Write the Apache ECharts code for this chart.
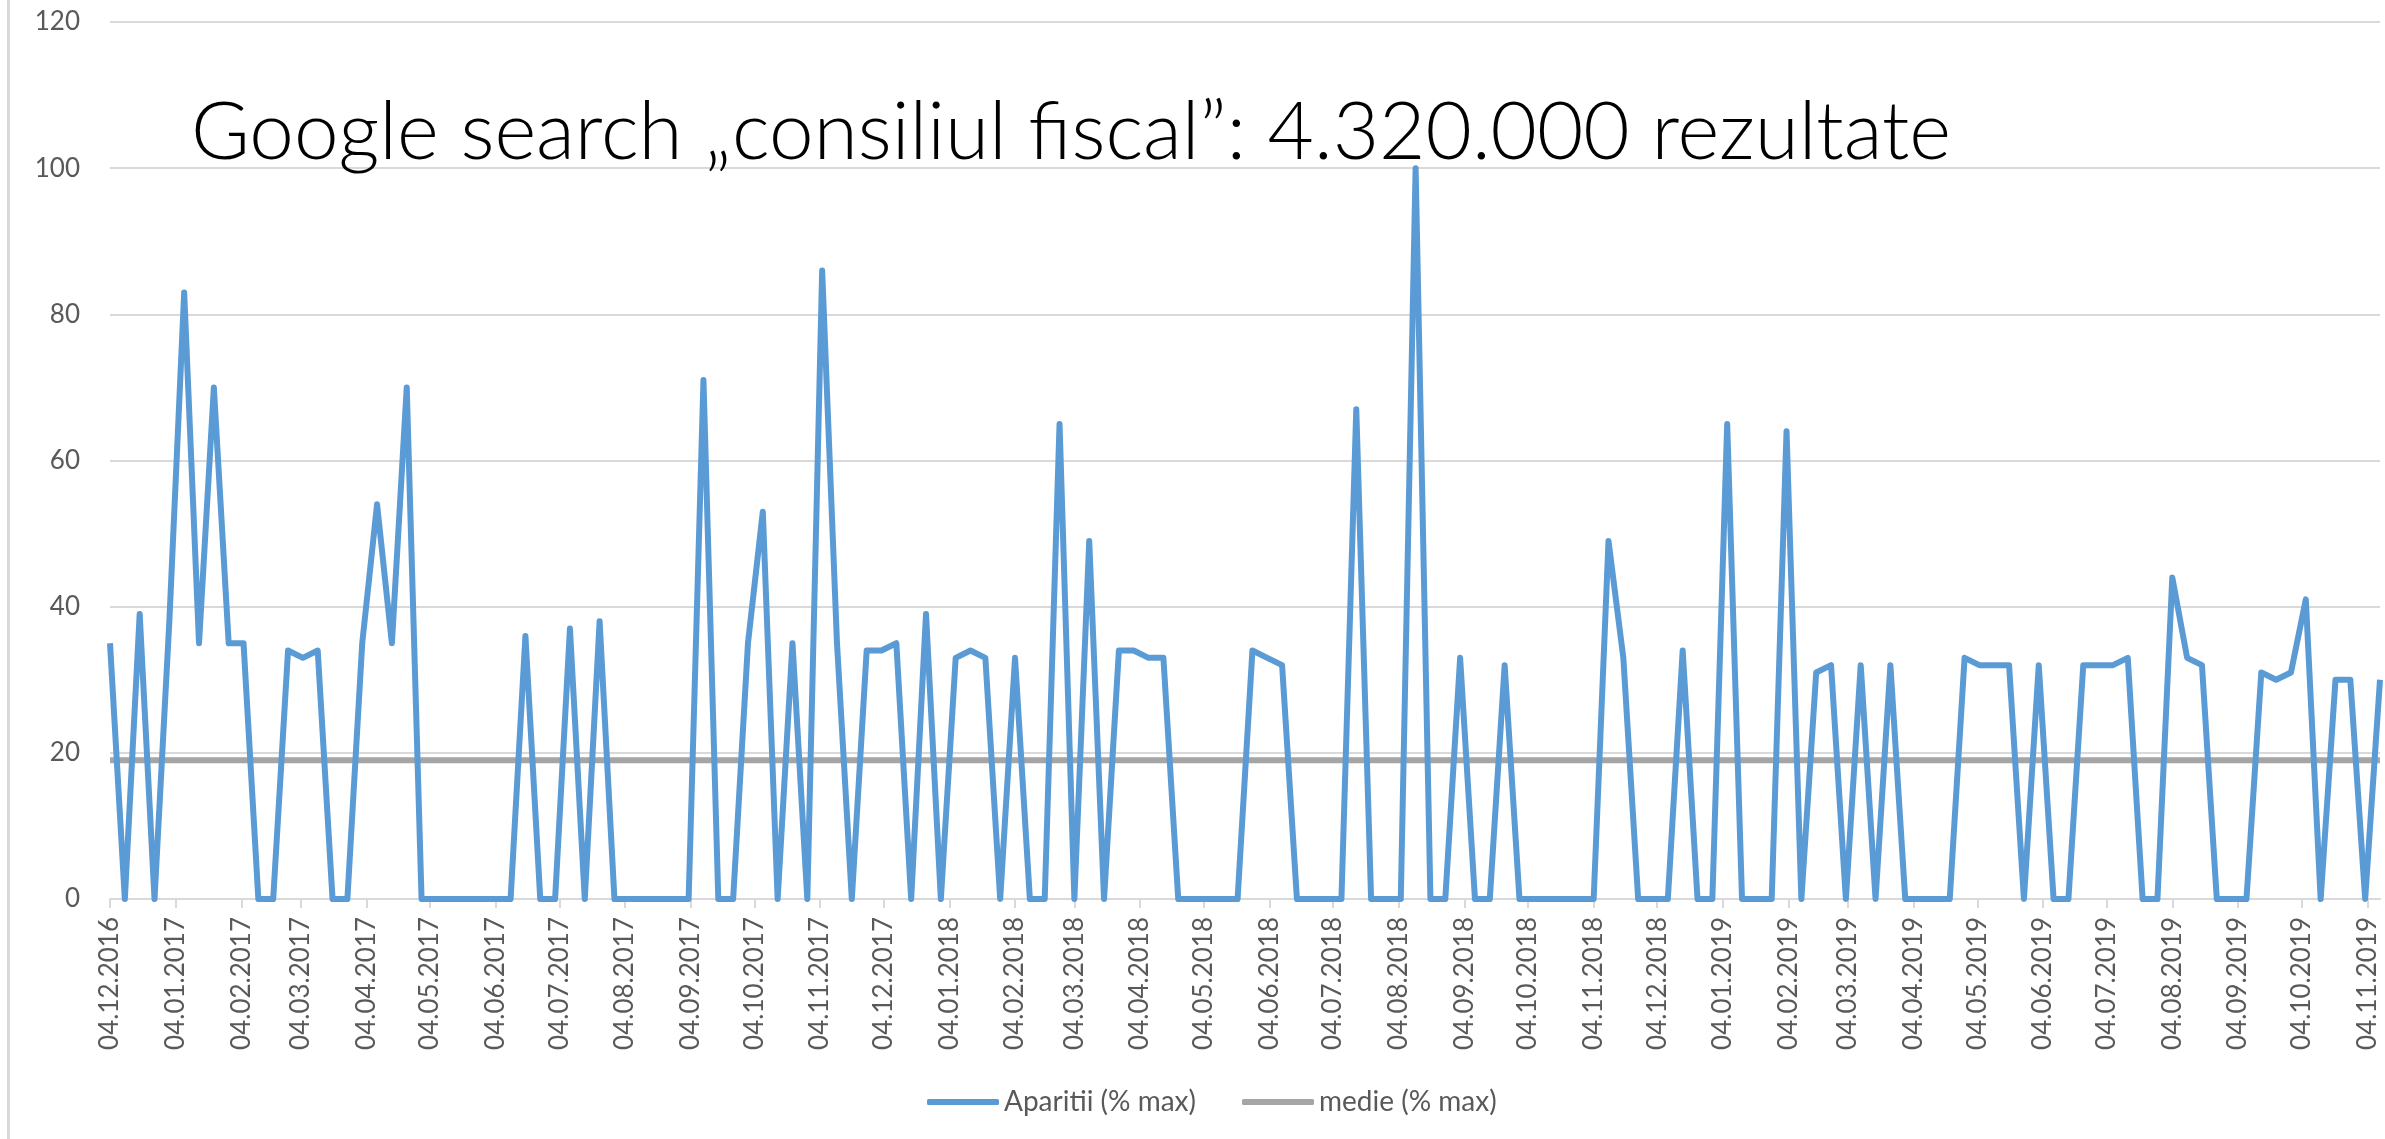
<!DOCTYPE html>
<html>
<head>
<meta charset="utf-8">
<title>Google search consiliul fiscal</title>
<script src="https://cdn.jsdelivr.net/npm/echarts@6/dist/echarts.min.js"></script>
<style>
  html, body { margin: 0; padding: 0; background: #fff; }
  #container { width: 2385px; height: 1139px; }
</style>
</head>
<body>
<div id="container"></div>
<script>
// saptamanal, de la 04.12.2016 (duminica)
var startDate = [2016, 11, 4];
var nrZile = 1072;
var pasSaptamana = 7;

var aparitii = [
  35, 0, 39, 0, 38, 83, 35, 70, 35, 35,
  0, 0, 34, 33, 34, 0, 0, 35, 54, 35,
  70, 0, 0, 0, 0, 0, 0, 0, 36, 0,
  0, 37, 0, 38, 0, 0, 0, 0, 0, 0,
  71, 0, 0, 35, 53, 0, 35, 0, 86, 35,
  0, 34, 34, 35, 0, 39, 0, 33, 34, 33,
  0, 33, 0, 0, 65, 0, 49, 0, 34, 34,
  33, 33, 0, 0, 0, 0, 0, 34, 33, 32,
  0, 0, 0, 0, 67, 0, 0, 0, 100, 0,
  0, 33, 0, 0, 32, 0, 0, 0, 0, 0,
  0, 49, 33, 0, 0, 0, 34, 0, 0, 65,
  0, 0, 0, 64, 0, 31, 32, 0, 32, 0,
  32, 0, 0, 0, 0, 33, 32, 32, 32, 0,
  32, 0, 0, 32, 32, 32, 33, 0, 0, 44,
  33, 32, 0, 0, 0, 31, 30, 31, 41, 0,
  30, 30, 0, 30
];
var medie = 19;

var yTicks = [0, 20, 40, 60, 80, 100, 120];
var titlu = 'Google search \u201econsiliul fiscal\u201d: 4.320.000 rezultate';
var numeSerii = ['Aparitii (% max)', 'medie (% max)'];

function pad(n) { return (n < 10 ? '0' : '') + n; }

// categorii zilnice ca sa pot pune etichetele pe 04 ale fiecarei luni
var zile = [];
var t0 = Date.UTC(startDate[0], startDate[1], startDate[2]);
for (var k = 0; k < nrZile; k++) {
  var d = new Date(t0 + k * 86400000);
  zile.push(pad(d.getUTCDate()) + '.' + pad(d.getUTCMonth() + 1) + '.' + d.getUTCFullYear());
}

var dateAparitii = aparitii.map(function (v, i) { return [i * pasSaptamana, v]; });
var dateMedie = [[0, medie], [nrZile - 1, medie]];

function eZiua4(idx, val) { return val.slice(0, 2) === '04'; }

var myChart = echarts.init(document.getElementById('container'));
var option = {
  animation: false,
  backgroundColor: '#fff',
  color: ['#5B9BD5', '#A5A5A5'],
  title: {
    text: titlu,
    left: 186,
    top: 88,
    textStyle: { fontFamily: 'Lato', fontWeight: 300, fontSize: 80, color: '#000' }
  },
  graphic: [{
    type: 'rect',
    shape: { x: 7, y: 0, width: 3, height: 1139 },
    style: { fill: '#D9D9D9' },
    z: -1
  }],
  legend: {
    left: 922,
    top: 1083,
    icon: 'roundRect',
    itemWidth: 72,
    itemHeight: 6,
    itemGap: 46,
    textStyle: { fontFamily: 'Lato', fontSize: 28, color: '#595959' },
    data: numeSerii
  },
  grid: { left: 110, right: 5, top: 22, bottom: 240 },
  xAxis: {
    type: 'category',
    data: zile,
    boundaryGap: false,
    axisLine: { lineStyle: { color: '#D9D9D9', width: 2 } },
    axisTick: { interval: eZiua4, length: 9, lineStyle: { color: '#D9D9D9', width: 2 } },
    axisLabel: {
      interval: eZiua4,
      rotate: 90,
      margin: 18,
      fontFamily: 'Lato',
      fontSize: 26,
      color: '#595959'
    },
    splitLine: { show: false }
  },
  yAxis: {
    type: 'value',
    min: yTicks[0],
    max: yTicks[yTicks.length - 1],
    interval: 20,
    axisLine: { show: false },
    axisTick: { show: false },
    axisLabel: { margin: 30, fontFamily: 'Lato', fontSize: 26, color: '#595959' },
    splitLine: { lineStyle: { color: '#D9D9D9', width: 2 } }
  },
  series: [
    {
      name: numeSerii[0],
      type: 'line',
      data: dateAparitii,
      showSymbol: false,
      lineStyle: { width: 6, color: '#5B9BD5', join: 'round' },
      z: 3
    },
    {
      name: numeSerii[1],
      type: 'line',
      data: dateMedie,
      showSymbol: false,
      lineStyle: { width: 6, color: '#A5A5A5' },
      z: 2
    }
  ]
};
myChart.setOption(option);
</script>
</body>
</html>
